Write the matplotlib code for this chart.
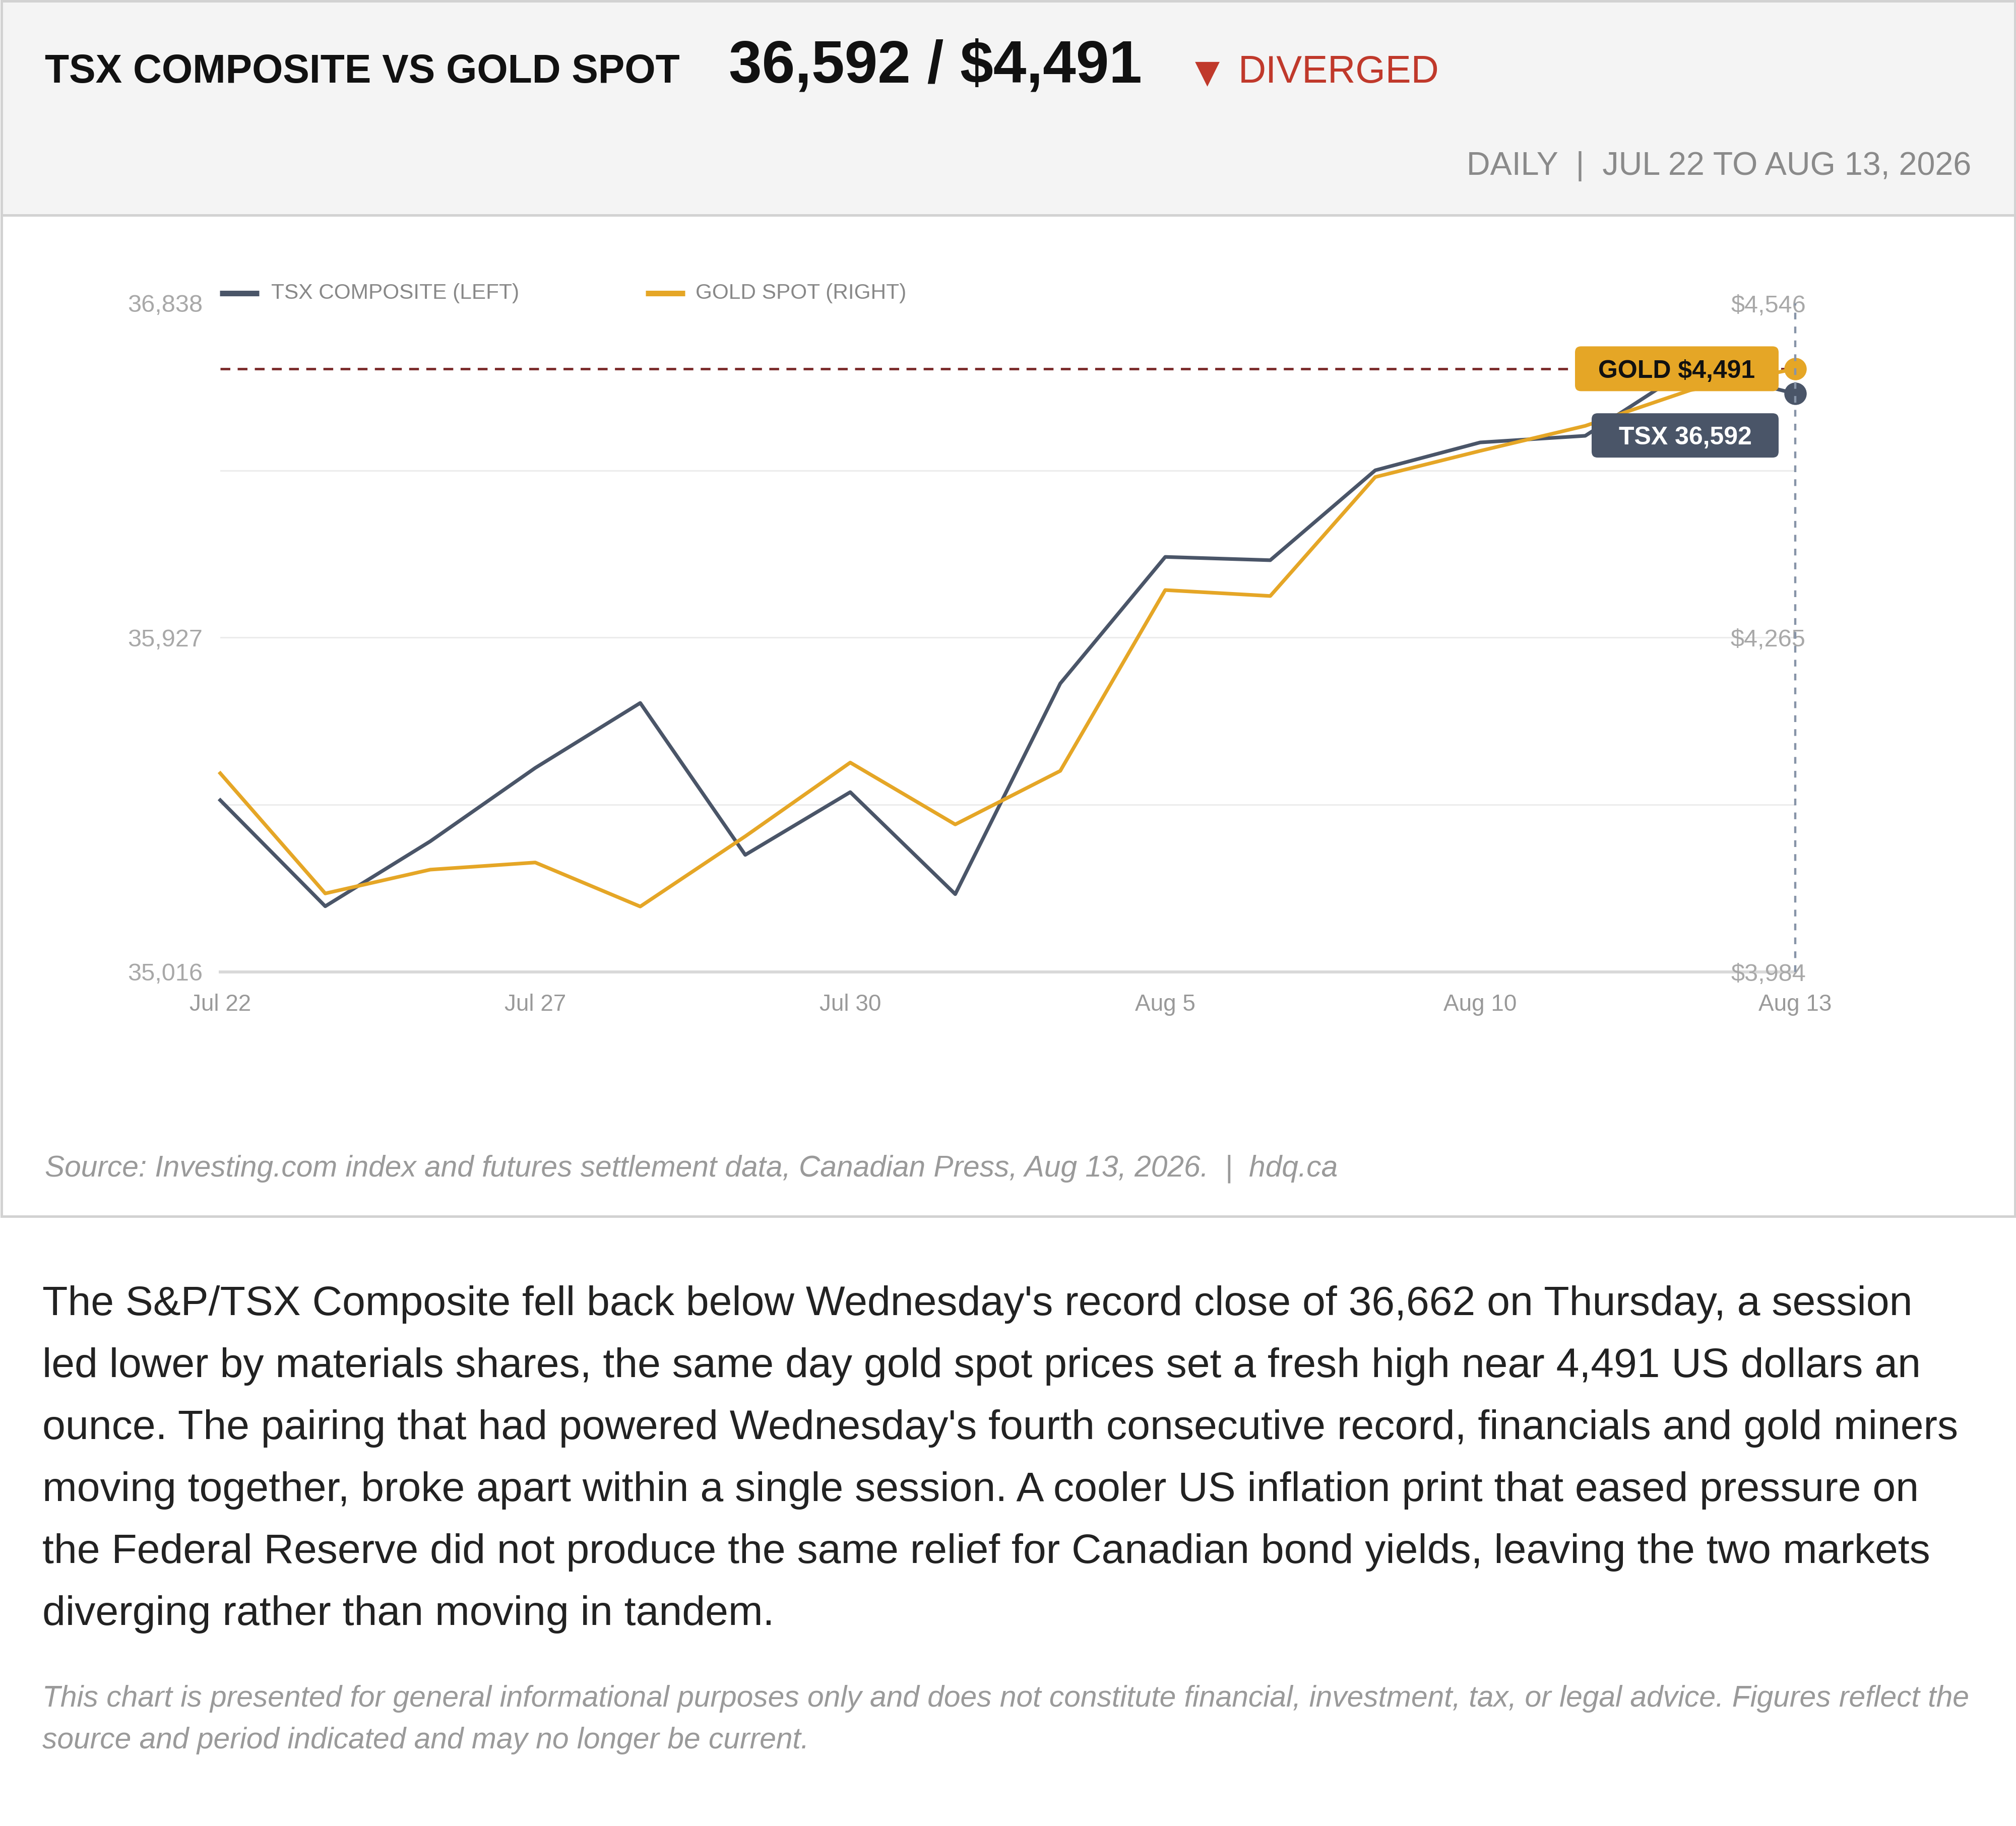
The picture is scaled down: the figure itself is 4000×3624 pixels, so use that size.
import matplotlib
matplotlib.use("Agg")
import matplotlib.pyplot as plt
from matplotlib.patches import Rectangle, FancyBboxPatch
from matplotlib.lines import Line2D
from matplotlib.transforms import IdentityTransform

plt.rcParams['font.family'] = ['Liberation Sans', 'DejaVu Sans']

# ---------------- data ----------------
dates = ["Jul 22", "Jul 23", "Jul 24", "Jul 27", "Jul 28", "Jul 29", "Jul 30", "Jul 31",
         "Aug 4", "Aug 5", "Aug 6", "Aug 7", "Aug 10", "Aug 11", "Aug 12", "Aug 13"]
tsx = [35484, 35195, 35372, 35572, 35749, 35335, 35506, 35228,
       35802, 36147, 36138, 36383, 36459, 36477, 36662, 36592]
gold = [4151, 4050, 4070, 4076, 4039, 4098, 4160, 4108,
        4153, 4305, 4300, 4400, 4422, 4443, 4473, 4491]
x_tick_labels = ["Jul 22", "Jul 27", "Jul 30", "Aug 5", "Aug 10", "Aug 13"]
tsx_ticks = [35016, 35927, 36838]
gold_ticks = [3984, 4265, 4546]
legend_labels = ["TSX COMPOSITE (LEFT)", "GOLD SPOT (RIGHT)"]

title = "TSX COMPOSITE VS GOLD SPOT"
headline = f"{tsx[-1]:,} / ${gold[-1]:,}"
status = "DIVERGED"
period = "DAILY  |  JUL 22 TO AUG 13, 2026"
source = "Source: Investing.com index and futures settlement data, Canadian Press, Aug 13, 2026.  |  hdq.ca"
paragraph = [
    "The S&P/TSX Composite fell back below Wednesday's record close of 36,662 on Thursday, a session",
    "led lower by materials shares, the same day gold spot prices set a fresh high near 4,491 US dollars an",
    "ounce. The pairing that had powered Wednesday's fourth consecutive record, financials and gold miners",
    "moving together, broke apart within a single session. A cooler US inflation print that eased pressure on",
    "the Federal Reserve did not produce the same relief for Canadian bond yields, leaving the two markets",
    "diverging rather than moving in tandem.",
]
disclaimer = [
    "This chart is presented for general informational purposes only and does not constitute financial, investment, tax, or legal advice. Figures reflect the",
    "source and period indicated and may no longer be current.",
]

# ---------------- style ----------------
TSX_C = "#4a5568"
GOLD_C = "#e5a626"
MAROON = "#7b2c2c"
DOT_C = "#8794a8"
W, H = 4000, 3624


def fx(x):
    return x / W


def fy(y):
    return 1 - y / H


fig = plt.figure(figsize=(W / 100, H / 100), dpi=100)
fig.patch.set_facecolor("white")

# header and panel frames
fig.add_artist(Rectangle((fx(2.5), fy(426.5)), (W - 5) / W, (424) / H, transform=fig.transFigure,
                         facecolor="#f4f4f4", edgecolor="#d2d2d2", lw=3.6, zorder=0))
fig.add_artist(Rectangle((fx(2.5), fy(2414)), (W - 5) / W, (2414 - 427) / H, transform=fig.transFigure,
                         facecolor="white", edgecolor="#d2d2d2", lw=3.6, zorder=0))

# header texts
fig.text(fx(89), fy(164), title, fontsize=56.7, fontweight="bold", color="#111111", va="baseline", ha="left")
fig.text(fx(1446), fy(164), headline, fontsize=85, fontweight="bold", color="#111111", va="baseline", ha="left")
fig.text(fx(2395), fy(164), "\u25BC", fontsize=46, color="#c0392b", va="baseline", ha="center",
         family=["DejaVu Sans"])
fig.text(fx(2457), fy(164), status, fontsize=55, color="#c0392b", va="baseline", ha="left")
fig.text(fx(3911), fy(347), period, fontsize=46.5, color="#8a8a8a", va="baseline", ha="right")

# ---------------- chart ----------------
ax = fig.add_axes([fx(437), fy(1929), (3562 - 437) / W, (1929 - 602) / H])
xs = list(range(len(dates)))
ax.set_xlim(xs[0], xs[-1])
ax.set_ylim(tsx_ticks[0], tsx_ticks[-1])
ax2 = ax.twinx()
ax2.set_ylim(gold_ticks[0], gold_ticks[-1])
for a in (ax, ax2):
    for s in a.spines.values():
        s.set_visible(False)
ax.set_facecolor("white")

# grid
step = (tsx_ticks[-1] - tsx_ticks[0]) / 4
for k in (1, 2, 3):
    ax.axhline(tsx_ticks[0] + k * step, color="#ececec", lw=2.2, zorder=0)
ax.axhline(tsx_ticks[0], color="#d9d9d9", lw=4.3, zorder=1, clip_on=False)

# ticks
ax.set_yticks(tsx_ticks)
ax.set_yticklabels([f"{v:,}" for v in tsx_ticks])
ax.tick_params(axis="y", length=0, pad=25, labelsize=35, labelcolor="#a8a8a8")
ax2.set_yticks(gold_ticks)
ax2.set_yticklabels([f"${v:,}" for v in gold_ticks])
ax2.tick_params(axis="y", length=0, pad=15, labelsize=35, labelcolor="#a8a8a8")
for t in ax2.yaxis.get_major_ticks():
    t.label2.set_horizontalalignment("right")
ax.set_xticks([dates.index(d) for d in x_tick_labels])
ax.set_xticklabels(x_tick_labels)
ax.tick_params(axis="x", length=0, pad=31, labelsize=33, labelcolor="#999999")

# lines
ax.plot(xs, tsx, color=TSX_C, lw=5.2, zorder=3, marker="o", markevery=[len(xs) - 1], ms=31,
        clip_on=False)
ax2.axhline(gold[-1], color=MAROON, lw=3.5, dashes=(4, 3), zorder=2)
ax2.plot(xs, gold, color=GOLD_C, lw=5.2, zorder=3, marker="o", markevery=[len(xs) - 1], ms=31,
         clip_on=False)
ax2.axvline(xs[-1], color=DOT_C, lw=3.2, dashes=(3, 3.2), zorder=5, clip_on=False)

# legend
for lx, tx0, col, lab in ((436, 538, TSX_C, legend_labels[0]), (1281, 1380, GOLD_C, legend_labels[1])):
    fig.add_artist(Line2D([fx(lx), fx(lx + 78)], [fy(582), fy(582)], transform=fig.transFigure,
                          color=col, lw=8, solid_capstyle="butt"))
    fig.text(fx(tx0), fy(582), lab, fontsize=30.5, color="#888888", va="center", ha="left")

# end labels
fig.canvas.draw()
gx, gy = ax2.transData.transform((xs[-1], gold[-1]))
tx, ty = ax.transData.transform((xs[-1], tsx[-1]))
boxes = [
    (gx - 33 - 404, gy - 44.5, 404, 89, GOLD_C, f"GOLD ${gold[-1]:,}", "#111111"),
    (tx - 33 - 371, ty - 83 - 44, 371, 88, TSX_C, f"TSX {tsx[-1]:,}", "white"),
]
for bx, by, bw, bh, fc, txt, tc in boxes:
    fig.add_artist(FancyBboxPatch((bx, by), bw, bh, boxstyle="round,pad=0,rounding_size=12",
                                  transform=IdentityTransform(), facecolor=fc, edgecolor="none", zorder=6))
    fig.text(fx(bx + bw / 2), (by + bh / 2) / H, txt, fontsize=36, fontweight="bold", color=tc,
             ha="center", va="center_baseline", zorder=7)

# source
fig.text(fx(89), fy(2334), source, fontsize=42.2, style="italic", color="#9a9a9a", va="baseline", ha="left")

# paragraph
for i, line in enumerate(paragraph):
    fig.text(fx(84), fy(2610 + i * 123), line, fontsize=59.3, color="#222222", va="baseline", ha="left")

for i, line in enumerate(disclaimer):
    fig.text(fx(84), fy(3387 + i * 83), line, fontsize=42.3, style="italic", color="#9a9a9a",
             va="baseline", ha="left")

fig.savefig("out.png", dpi=100, facecolor="white")
